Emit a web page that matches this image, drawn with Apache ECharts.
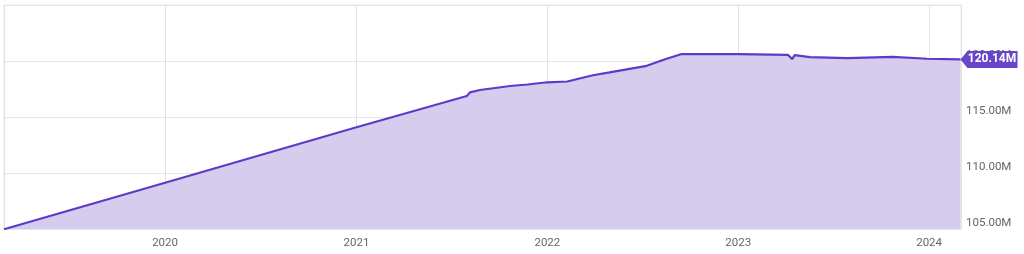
<!DOCTYPE html>
<html>
<head>
<meta charset="utf-8">
<script src="https://cdn.jsdelivr.net/npm/echarts@6/dist/echarts.min.js"></script>
<style>
html,body{margin:0;padding:0;background:#fff;}
#chart{width:1024px;height:254px;}
</style>
</head>
<body>
<div id="chart"></div>
<script>
const dates = ['2019-02-27','2020-01-01','2021-01-01','2021-07-31','2021-08-06','2021-08-25','2021-10-22','2021-11-24','2022-01-01','2022-02-08','2022-03-29','2022-04-30','2022-07-10','2022-08-17','2022-09-15','2023-01-01','2023-04-06','2023-04-14','2023-04-19','2023-05-18','2023-07-28','2023-10-24','2023-12-28','2024-03-01'];
const values = [104.98,109.13,114.09,116.87,117.2,117.41,117.77,117.9,118.1,118.17,118.73,118.98,119.57,120.2,120.62,120.62,120.55,120.17,120.53,120.35,120.26,120.36,120.2,120.14];
const yTicks = [105,110,115,120,125];
const lastLabel = '120.14M';

const chart = echarts.init(document.getElementById('chart'));
const data = dates.map((d,i)=>[d, values[i]]);
chart.setOption({
  animation:false,
  grid:{left:4,right:63,top:5,bottom:25,show:true,borderColor:'#e6e6e6',borderWidth:1},
  xAxis:{
    type:'time',
    min:'2019-02-27', max:'2024-03-02',
    axisLine:{show:false}, axisTick:{show:false},
    axisLabel:{color:'#666',fontFamily:'Roboto',fontSize:11.5,margin:8,formatter:'{yyyy}',hideOverlap:true},
    splitLine:{show:true,lineStyle:{color:'#e3e0ea',width:1}}
  },
  yAxis:{
    type:'value', position:'right', min:yTicks[0], max:yTicks[yTicks.length-1], interval:5,
    axisLine:{show:false}, axisTick:{show:false},
    axisLabel:{color:'#666',fontFamily:'Roboto',fontSize:11.5,margin:5,verticalAlign:'bottom',showMaxLabel:false,
      formatter:v=>v.toFixed(2)+'M'},
    splitLine:{show:true,lineStyle:{color:'#e6e6e6',width:1}}
  },
  series:[{
    type:'line', data:data, symbol:'none', smooth:false,
    lineStyle:{color:'#5b3bc8',width:2.2},
    areaStyle:{color:'#d6ccee',opacity:1},
    markPoint:{
      symbol:'path://M0,8 L7,0 L57,0 L57,16 L7,16 Z',
      symbolSize:[57,17], symbolKeepAspect:false,
      symbolOffset:['50%',0],
      itemStyle:{color:'#6a44c9'},
      label:{show:true,color:'#fff',fontFamily:'Roboto',fontWeight:'bold',fontSize:12,offset:[3,0],formatter:()=>lastLabel},
      data:[{coord:[dates[dates.length-1], values[values.length-1]]}]
    }
  }]
});
</script>
</body>
</html>
